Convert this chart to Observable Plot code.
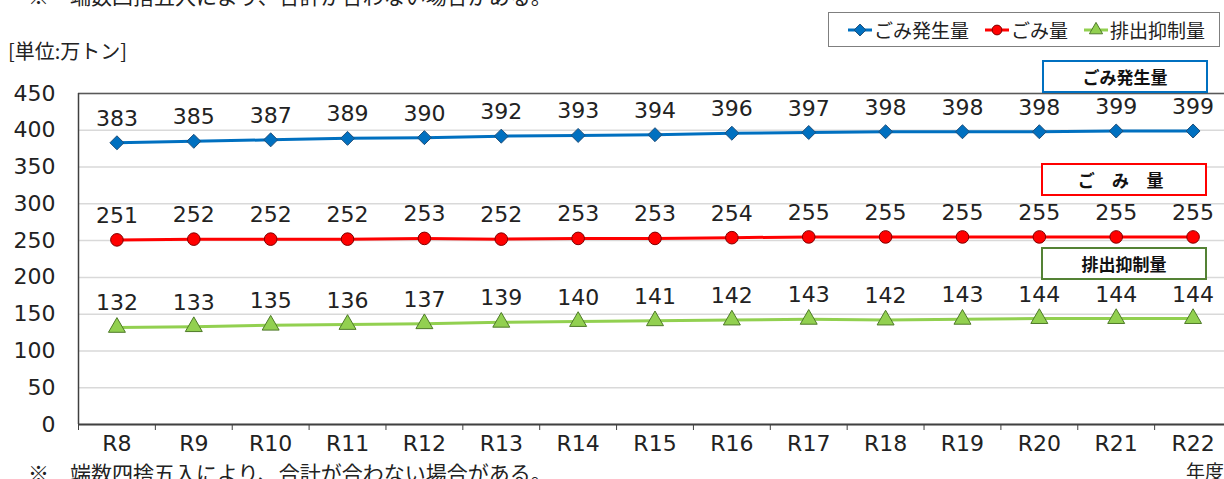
<!DOCTYPE html>
<html><head><meta charset="utf-8">
<script src="https://cdn.jsdelivr.net/npm/d3@7"></script>
<script src="https://cdn.jsdelivr.net/npm/@observablehq/plot@0.6"></script>
<style>
body{margin:0;background:#fff;font-family:"Noto Sans CJK JP","Noto Sans",sans-serif;color:#222;}
#wrap{position:relative;width:1224px;height:479px;overflow:hidden;}
#chart{position:absolute;left:0;top:0;}
.abs{position:absolute;white-space:nowrap;line-height:1.4;}
.box{position:absolute;box-sizing:border-box;background:#fff;display:flex;align-items:center;justify-content:center;font-weight:bold;font-size:17px;color:#111;white-space:nowrap;}
#legend{position:absolute;left:828px;top:12px;width:392px;height:35px;box-sizing:border-box;border:1px solid #7f7f7f;background:#fff;font-size:19px;display:flex;align-items:center;padding-left:19px;white-space:nowrap;overflow:hidden;}
#legend .item{display:flex;align-items:center;margin-right:16px;flex-shrink:0;white-space:nowrap;}
#legend svg{margin-right:2px;flex-shrink:0;}
</style></head>
<body><div id="wrap"><div id="chart"></div></div>
<script>
const categories = ["R8","R9","R10","R11","R12","R13","R14","R15","R16","R17","R18","R19","R20","R21","R22"];
const seriesNames = ["ごみ発生量","ごみ量","排出抑制量"];
const generated = [383,385,387,389,390,392,393,394,396,397,398,398,398,399,399];
const waste = [251,252,252,252,253,252,253,253,254,255,255,255,255,255,255];
const reduction = [132,133,135,136,137,139,140,141,142,143,142,143,144,144,144];
const yTicks = [0,50,100,150,200,250,300,350,400,450];
const colors = ["#0070C0","#FF0000","#92D050"];
const outlines = ["#1F4E79","#7F0000","#4E7A28"];
const symbols = ["diamond2","circle","triangle"];
const boxBorders = ["#0070C0","#FF0000","#548235"];

const seriesValues = [generated, waste, reduction];
const data = [];
seriesValues.forEach((vals, s) => vals.forEach((v, i) => data.push({s, name: seriesNames[s], i, v})));

const numFont = '"DejaVu Sans", Verdana, sans-serif';
const marks = [
  Plot.gridY(yTicks, {stroke: "#d9d9d9", strokeOpacity: 1, strokeWidth: 1.5}),
  Plot.ruleY([450], {stroke: "#595959", strokeWidth: 1.5}),
  Plot.ruleY([0], {stroke: "#404040", strokeWidth: 2}),
  Plot.ruleX([-0.5], {stroke: "#404040", strokeWidth: 1.5}),
  Plot.axisY({ticks: yTicks, tickSize: 0, tickPadding: 23, fontSize: 22, fontFamily: numFont, fill: "#222", label: null}),
  Plot.axisX({ticks: d3.range(categories.length), tickFormat: i => categories[i], tickSize: 0, tickPadding: 11, fontSize: 22, fontFamily: numFont, fill: "#222", label: null}),
  Plot.axisX({ticks: d3.range(-0.5, categories.length, 1), tickFormat: () => "", tickSize: 6, stroke: "#404040", label: null})
];
seriesValues.forEach((vals, s) => {
  const d = data.filter(e => e.s === s);
  marks.push(Plot.line(d, {x: "i", y: "v", stroke: colors[s], strokeWidth: 3}));
  marks.push(Plot.dot(d, {x: "i", y: "v", symbol: () => symbols[s], r: 6.3, fill: colors[s], stroke: outlines[s], strokeWidth: 1}));
  marks.push(Plot.text(d, {x: "i", y: "v", text: e => String(e.v), dy: -24, fontSize: 22, fontFamily: numFont, fill: "#222"}));
});

const chart = Plot.plot({
  width: 1224, height: 479,
  marginTop: 93, marginBottom: 55, marginLeft: 78, marginRight: 0,
  style: {fontFamily: '"Noto Sans CJK JP","Noto Sans",sans-serif', color: "#222", background: "transparent", overflow: "hidden"},
  x: {type: "linear", domain: [-0.5, categories.length - 0.5], range: [78, 1231]},
  y: {domain: [0, 450]},
  marks
});
document.getElementById("chart").appendChild(chart);

const wrap = document.getElementById("wrap");
function addText(txt, left, top, size) {
  const el = document.createElement("div");
  el.className = "abs"; el.textContent = txt;
  el.style.left = left + "px"; el.style.top = top + "px"; el.style.fontSize = size + "px";
  wrap.appendChild(el); return el;
}
addText("※", 28, -19, 21);
addText("端数四捨五入により、合計が合わない場合がある。", 70, -19, 21);
addText("[単位:万トン]", 8, 37, 20);
addText("※", 28, 458, 21);
addText("端数四捨五入により、合計が合わない場合がある。", 70, 458, 21);
addText("年度", 1186, 458, 19);

// series label boxes
const boxPos = [[1042,60,"ごみ発生量","0"],[1041,163,"ご み 量","0.4em"],[1041,247,"排出抑制量","0"]];
boxPos.forEach(([l,t,txt,ls], s) => {
  const b = document.createElement("div");
  b.className = "box"; b.textContent = txt;
  b.style.left = l + "px"; b.style.top = t + "px"; b.style.width = "166px"; b.style.height = "33px";
  b.style.border = "2px solid " + boxBorders[s];
  b.style.letterSpacing = ls;
  wrap.appendChild(b);
});

// legend
const lg = document.createElement("div"); lg.id = "legend";
seriesNames.forEach((n, s) => {
  const it = document.createElement("div"); it.className = "item";
  const svg = d3.create("svg").attr("width", 24).attr("height", 16);
  svg.append("line").attr("x1", 0).attr("x2", 24).attr("y1", 8).attr("y2", 8).attr("stroke", colors[s]).attr("stroke-width", 3);
  const sym = [d3.symbolDiamond2, d3.symbolCircle, d3.symbolTriangle][s];
  svg.append("path").attr("d", d3.symbol(sym, s === 0 ? 90 : 75)()).attr("transform", "translate(12,8)").attr("fill", colors[s]).attr("stroke", outlines[s]);
  it.appendChild(svg.node());
  const sp = document.createElement("span"); sp.textContent = n; it.appendChild(sp);
  lg.appendChild(it);
});
wrap.appendChild(lg);
</script></body></html>
